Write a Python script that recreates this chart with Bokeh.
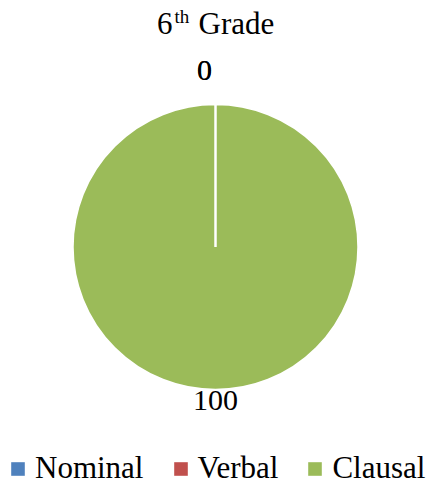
import numpy as np
from bokeh.plotting import figure
from bokeh.models import ColumnDataSource, Range1d, Legend, LegendItem
from bokeh.core.properties import value
from bokeh.embed import file_html
from bokeh.resources import INLINE

# ---- data ----
categories = ["Nominal", "Verbal", "Clausal"]
values = [0, 0, 100]
colors = ["#4F81BD", "#C0504D", "#9BBB59"]
title_main = "6"
title_sup = "th"
title_rest = "Grade"

FONT = "Liberation Serif"
W, H = 432, 486
cx, cy, r = 215, 239.5, 143
TWO_PI = 2 * np.pi

vals = np.array(values, dtype=float)
total = vals.sum()
cum = np.cumsum(vals)
start = np.pi / 2 - TWO_PI * (cum - vals) / total
end = np.pi / 2 - TWO_PI * cum / total
mid = (start + end) / 2
# normalised angles (a full slice then has start == end, drawn as a full disc)
start_n = np.round(np.mod(start, TWO_PI), 9)
end_n = np.round(np.mod(end, TWO_PI), 9)

upper = np.sin(mid) > 0
off = np.where(upper, 34, 10)
lx = cx + (r + off) * np.cos(mid) + np.where(upper, -11, 0)
ly = cy + (r + off) * np.sin(mid)

nz = vals > 0
wsrc = ColumnDataSource(dict(start=start_n[nz], end=end_n[nz],
                             color=[c for c, k in zip(colors, nz) if k],
                             x=[cx] * int(nz.sum()), y=[cy] * int(nz.sum())))
lsrc = ColumnDataSource(dict(lx=lx, ly=ly, lab=[str(v) for v in values]))

p = figure(width=W, height=H, output_backend="svg", toolbar_location=None,
           x_range=Range1d(0, W), y_range=Range1d(0, H), min_border=0)
p.axis.visible = False
p.grid.visible = False
p.outline_line_color = None
p.background_fill_color = "white"
p.border_fill_color = "white"

p.wedge(x="x", y="y", radius=r, start_angle="start", end_angle="end",
        direction="clock", fill_color="color", line_color="white",
        line_width=2.5, source=wsrc)

p.text(x="lx", y="ly", text="lab", source=lsrc, text_font=value(FONT),
       text_font_size="30px", text_align="center", text_baseline="middle",
       text_color="black")

# title with superscript
p.text(x=[172], y=[463], text=[title_main], text_font=value(FONT),
       text_font_size="31px", text_align="right", text_baseline="alphabetic")
p.text(x=[174], y=[470], text=[title_sup], text_font=value(FONT),
       text_font_size="19px", text_align="left", text_baseline="alphabetic")
p.text(x=[198], y=[463], text=[title_rest], text_font=value(FONT),
       text_font_size="31px", text_align="left", text_baseline="alphabetic")

# legend (off-canvas renderers used only for legend swatches)
items = []
for c, col in zip(categories, colors):
    rr = p.quad(left=[np.nan], right=[np.nan], top=[np.nan], bottom=[np.nan],
                fill_color=col, line_color=None)
    items.append(LegendItem(label=c, renderers=[rr]))
legend = Legend(items=items, orientation="horizontal", location=(9, 0),
                glyph_width=17, glyph_height=17, label_standoff=9, spacing=28,
                padding=0, margin=0, border_line_color=None,
                background_fill_alpha=0, label_text_font=FONT,
                label_text_font_size="31px", label_text_color="black")
p.add_layout(legend, "center")

open("out.html", "w").write(file_html(p, INLINE))
